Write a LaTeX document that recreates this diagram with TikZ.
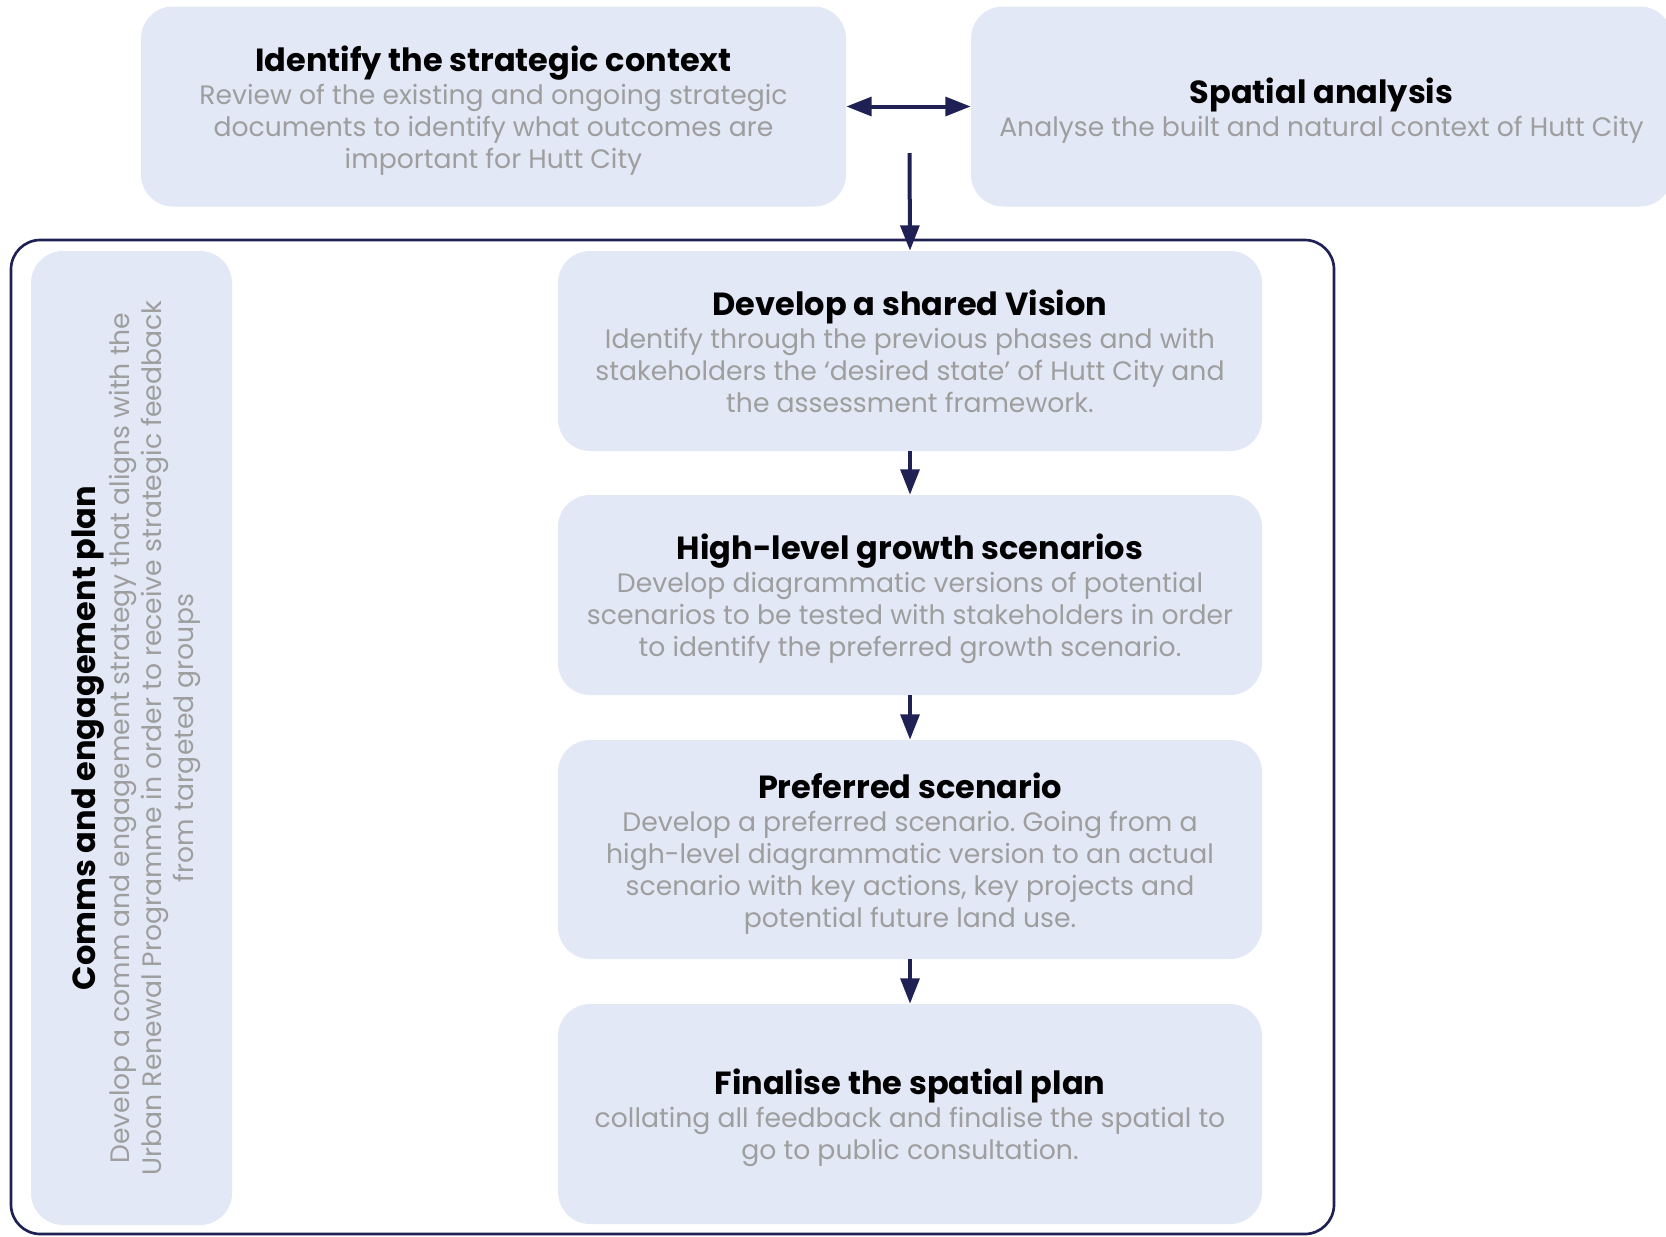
\documentclass[tikz,border=0pt]{standalone}
\usepackage{fontspec}
\setmainfont{Poppins}
\usetikzlibrary{arrows.meta}
\frenchspacing
\definecolor{boxfill}{HTML}{E3E8F6}
\definecolor{navy}{HTML}{1F2154}
\definecolor{bodygray}{HTML}{9E9E9E}
\newcommand{\ttl}[1]{{\color{black}\fontsize{24}{26}\selectfont\bfseries #1}}
\newcommand{\lowttl}[1]{{\color{black}\fontsize{24}{26}\selectfont\bfseries\rule{0pt}{25pt}#1}}
\tikzset{
  x=0.75pt, y=-0.75pt,
  stage/.style={fill=boxfill, draw=none, rounded corners=24pt, align=center,
    text=bodygray, font=\fontsize{20}{24}\selectfont\frenchspacing, inner sep=0pt},
  framebox/.style={draw=navy, line width=2pt, rounded corners=22pt, fill=none, inner sep=0pt},
  flow/.style={draw=navy, line width=3pt, -{Triangle[length=19pt,width=14pt]}},
  biflow/.style={draw=navy, line width=3pt, {Triangle[length=19pt,width=14pt]}-{Triangle[length=19pt,width=14pt]}},
}
\begin{document}
\begin{tikzpicture}
\useasboundingbox (0,0) rectangle (1666,1236);
\node[framebox, minimum width=992.25pt, minimum height=745.5pt] (frame) at (672.5,737) {};
\node[stage, minimum width=528.75pt, minimum height=150pt] (ctx) at (493.5,106.5)
 {\lowttl{Identify the strategic context}\\[1pt]
  Review of the existing and ongoing strategic\\
  documents to identify what outcomes are\\
  important for Hutt City};
\node[stage, minimum width=525.75pt, minimum height=150pt] (spa) at (1321.5,106.5)
 {\lowttl{Spatial analysis}\\[1pt]
  Analyse the built and natural context of Hutt City};
\node[stage, rotate=90, minimum width=730.5pt, minimum height=150.75pt] (comms) at (131.5,738)
 {\lowttl{Comms and engagement plan}\\[1pt]
  Develop a comm and engagement strategy that aligns with the\\
  Urban Renewal Programme in order to receive strategic feedback\\
  from targeted groups};
\node[stage, minimum width=528pt, minimum height=150pt] (v1) at (910,351)
 {\ttl{Develop a shared Vision}\\[1pt]
  Identify through the previous phases and with\\
  stakeholders the ‘desired state’ of Hutt City and\\
  the assessment framework.};
\node[stage, minimum width=528pt, minimum height=150pt] (v2) at (910,595)
 {\lowttl{High-level growth scenarios}\\[1pt]
  Develop diagrammatic versions of potential\\
  scenarios to be tested with stakeholders in order\\
  to identify the preferred growth scenario.};
\node[stage, minimum width=528pt, minimum height=164.25pt] (v3) at (910,849.5)
 {\lowttl{Preferred scenario}\\[1pt]
  Develop a preferred scenario. Going from a\\
  high-level diagrammatic version to an actual\\
  scenario with key actions, key projects and\\
  potential future land use.};
\node[stage, minimum width=528pt, minimum height=165pt] (v4) at (910,1114)
 {\lowttl{Finalise the spatial plan}\\[1pt]
  collating all feedback and finalise the spatial to\\
  go to public consultation.};
\coordinate (split) at (909.5,153);
\draw[biflow] (ctx.east) -- (spa.west);
\draw[flow] (split) -- (v1.north);
\draw[flow] (v1.south) -- (v2.north);
\draw[flow] (v2.south) -- (v3.north);
\draw[flow] (v3.south) -- (v4.north);
\end{tikzpicture}
\end{document}
